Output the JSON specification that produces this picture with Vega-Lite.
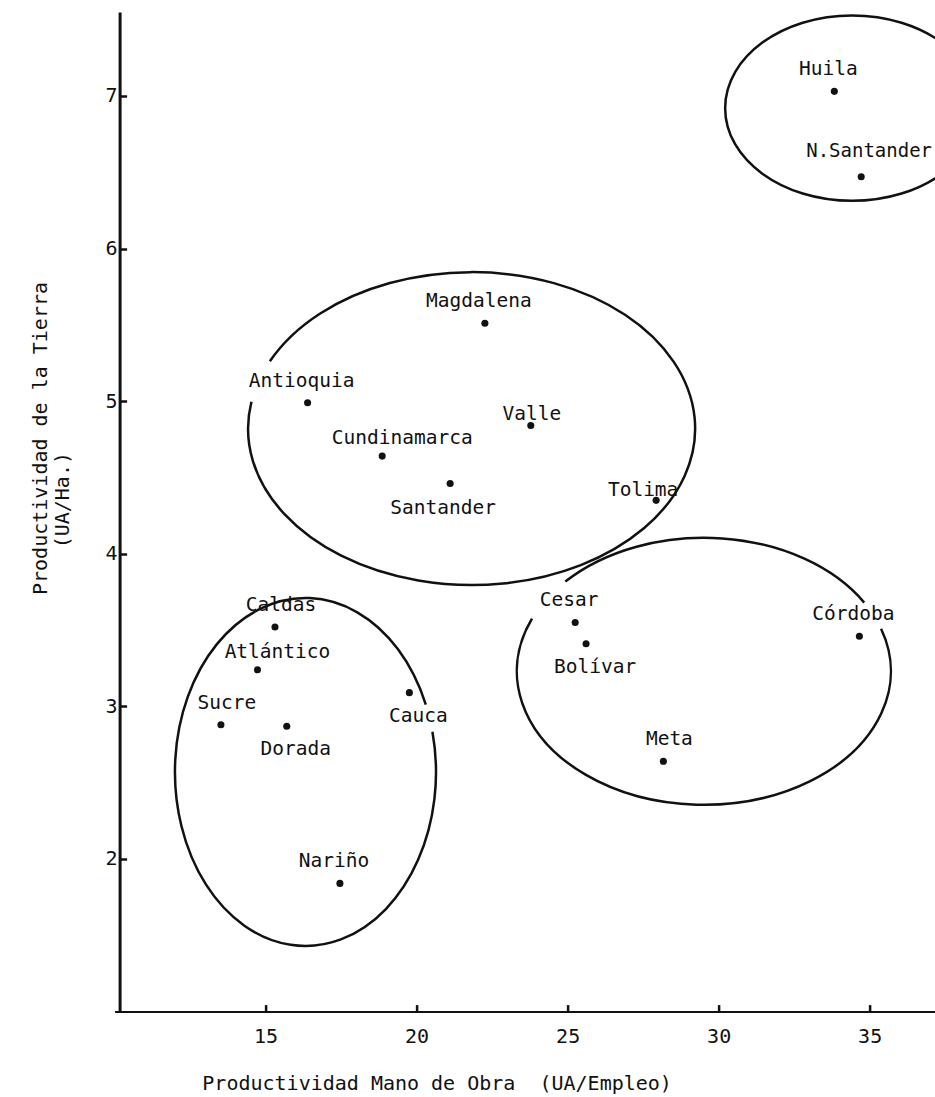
{
  "$schema": "https://vega.github.io/schema/vega-lite/v6.json",
  "width": 820,
  "height": 999.6,
  "autosize": {"type": "none"},
  "padding": {"left": 114.6, "top": 12, "right": 0.4, "bottom": 85.4},
  "background": "white",
  "config": {"view": {"stroke": null}, "font": "DejaVu Sans Mono"},
  "datasets": {
    "deptos": [
      {"depto": "Huila", "mano": 33.83, "tierra": 7.03},
      {"depto": "N.Santander", "mano": 34.72, "tierra": 6.47},
      {"depto": "Magdalena", "mano": 22.26, "tierra": 5.51},
      {"depto": "Antioquia", "mano": 16.39, "tierra": 4.99},
      {"depto": "Valle", "mano": 23.78, "tierra": 4.84},
      {"depto": "Cundinamarca", "mano": 18.86, "tierra": 4.64},
      {"depto": "Santander", "mano": 21.11, "tierra": 4.46},
      {"depto": "Tolima", "mano": 27.93, "tierra": 4.35},
      {"depto": "Caldas", "mano": 15.31, "tierra": 3.52},
      {"depto": "Atlántico", "mano": 14.73, "tierra": 3.24},
      {"depto": "Sucre", "mano": 13.52, "tierra": 2.88},
      {"depto": "Dorada", "mano": 15.70, "tierra": 2.87},
      {"depto": "Cauca", "mano": 19.76, "tierra": 3.09},
      {"depto": "Nariño", "mano": 17.46, "tierra": 1.84},
      {"depto": "Cesar", "mano": 25.25, "tierra": 3.55},
      {"depto": "Bolívar", "mano": 25.61, "tierra": 3.41},
      {"depto": "Córdoba", "mano": 34.66, "tierra": 3.46},
      {"depto": "Meta", "mano": 28.17, "tierra": 2.64}
    ],
    "grupos": [
      {"grupo": "A", "mano": 34.42, "tierra": 6.92},
      {"grupo": "B", "mano": 21.82, "tierra": 4.82},
      {"grupo": "C", "mano": 16.32, "tierra": 2.57},
      {"grupo": "D", "mano": 29.51, "tierra": 3.23}
    ]
  },
  "encoding": {
    "x": {
      "field": "mano", "type": "quantitative",
      "scale": {"domain": [10, 37.15], "nice": false, "zero": false},
      "axis": {
        "values": [15, 20, 25, 30, 35],
        "grid": false,
        "domainColor": "#111", "domainWidth": 2,
        "tickColor": "#111", "tickWidth": 2.5, "tickSize": -7,
        "labelPadding": 21.9, "labelFontSize": 20, "labelColor": "#111",
        "labelFont": "DejaVu Sans Mono",
        "title": "Productividad Mano de Obra \u00a0(UA/Empleo)",
        "titleFont": "DejaVu Sans Mono", "titleFontSize": 20, "titleFontWeight": "normal",
        "titleColor": "#111",
        "titleX": 322, "titleY": 71.5, "titleAlign": "center", "titleBaseline": "middle"
      }
    },
    "y": {
      "field": "tierra", "type": "quantitative",
      "scale": {"domain": [1, 7.55], "nice": false, "zero": false},
      "axis": {
        "values": [2, 3, 4, 5, 6, 7],
        "grid": false,
        "offset": -5,
        "domainColor": "#111", "domainWidth": 3,
        "tickColor": "#111", "tickWidth": 2.5, "tickSize": -7,
        "labelPadding": 9.6, "labelFontSize": 20, "labelColor": "#111",
        "labelFont": "DejaVu Sans Mono",
        "title": ["Productividad de la Tierra", "(UA/Ha.)\u00a0\u00a0\u00a0\u00a0\u00a0\u00a0\u00a0\u00a0\u00a0\u2800"],
        "titleFont": "DejaVu Sans Mono", "titleFontSize": 20, "titleFontWeight": "normal",
        "titleColor": "#111", "titleLineHeight": 21.5,
        "titleAngle": 270,
        "titleX": -78.8, "titleY": 426, "titleAlign": "center", "titleBaseline": "middle"
      }
    }
  },
  "layer": [
    {
      "data": {"name": "grupos"},
      "transform": [{"filter": "datum.grupo === 'A'"}],
      "mark": {"type": "point", "shape": "M -1 0 A 1 0.73 0 1 1 1 0 A 1 0.73 0 1 1 -1 0 Z", "size": 64516, "filled": false, "stroke": "#111", "strokeWidth": 2.5, "opacity": 1}
    },
    {
      "data": {"name": "grupos"},
      "transform": [{"filter": "datum.grupo === 'B'"}],
      "mark": {"type": "point", "shape": "M -0.9026 -0.3014 A 1 0.7 0 1 1 -0.9851 -0.1204", "size": 199809, "filled": false, "stroke": "#111", "strokeWidth": 2.5, "opacity": 1}
    },
    {
      "data": {"name": "grupos"},
      "transform": [{"filter": "datum.grupo === 'C'"}],
      "mark": {"type": "point", "shape": "M 0.9728 -0.3089 A 1 1.333 0 1 1 0.9219 -0.5166", "size": 68121, "filled": false, "stroke": "#111", "strokeWidth": 2.5, "opacity": 1}
    },
    {
      "data": {"name": "grupos"},
      "transform": [{"filter": "datum.grupo === 'D'"}],
      "mark": {"type": "point", "shape": "M -0.7408 -0.4796 A 1 0.714 0 0 1 0.8576 -0.3672 M 0.9478 -0.2278 A 1 0.714 0 1 1 -0.9191 -0.2812", "size": 139876, "filled": false, "stroke": "#111", "strokeWidth": 2.5, "opacity": 1}
    },
    {
      "data": {"name": "deptos"},
      "mark": {"type": "circle", "size": 50, "color": "#111", "opacity": 1}
    },
    {
      "data": {"name": "deptos"},
      "transform": [{"filter": {"field": "depto", "oneOf": ["Huila", "Magdalena", "Antioquia", "Nariño", "Cesar", "Córdoba"]}}],
      "mark": {"type": "text", "dx": -6, "dy": -22, "fontSize": 19.5, "font": "DejaVu Sans Mono", "color": "#111", "align": "center", "baseline": "middle"},
      "encoding": {"text": {"field": "depto"}}
    },
    {
      "data": {"name": "deptos"},
      "transform": [{"filter": {"field": "depto", "oneOf": ["Sucre", "Caldas", "Meta"]}}],
      "mark": {"type": "text", "dx": 6, "dy": -22, "fontSize": 19.5, "font": "DejaVu Sans Mono", "color": "#111", "align": "center", "baseline": "middle"},
      "encoding": {"text": {"field": "depto"}}
    },
    {
      "data": {"name": "deptos"},
      "transform": [{"filter": {"field": "depto", "oneOf": ["Atlántico", "Cundinamarca"]}}],
      "mark": {"type": "text", "dx": 20, "dy": -18, "fontSize": 19.5, "font": "DejaVu Sans Mono", "color": "#111", "align": "center", "baseline": "middle"},
      "encoding": {"text": {"field": "depto"}}
    },
    {
      "data": {"name": "deptos"},
      "transform": [{"filter": {"field": "depto", "oneOf": ["Valle"]}}],
      "mark": {"type": "text", "dx": 1, "dy": -12, "fontSize": 19.5, "font": "DejaVu Sans Mono", "color": "#111", "align": "center", "baseline": "middle"},
      "encoding": {"text": {"field": "depto"}}
    },
    {
      "data": {"name": "deptos"},
      "transform": [{"filter": {"field": "depto", "oneOf": ["Tolima"]}}],
      "mark": {"type": "text", "dx": -13, "dy": -10, "fontSize": 19.5, "font": "DejaVu Sans Mono", "color": "#111", "align": "center", "baseline": "middle"},
      "encoding": {"text": {"field": "depto"}}
    },
    {
      "data": {"name": "deptos"},
      "transform": [{"filter": {"field": "depto", "oneOf": ["Dorada", "Cauca", "Bolívar"]}}],
      "mark": {"type": "text", "dx": 9, "dy": 23, "fontSize": 19.5, "font": "DejaVu Sans Mono", "color": "#111", "align": "center", "baseline": "middle"},
      "encoding": {"text": {"field": "depto"}}
    },
    {
      "data": {"name": "deptos"},
      "transform": [{"filter": {"field": "depto", "oneOf": ["Santander"]}}],
      "mark": {"type": "text", "dx": -7, "dy": 24, "fontSize": 19.5, "font": "DejaVu Sans Mono", "color": "#111", "align": "center", "baseline": "middle"},
      "encoding": {"text": {"field": "depto"}}
    },
    {
      "data": {"name": "deptos"},
      "transform": [{"filter": {"field": "depto", "oneOf": ["N.Santander"]}}],
      "mark": {"type": "text", "dx": -55, "dy": -26, "fontSize": 19, "font": "DejaVu Sans Mono", "color": "#111", "align": "left", "baseline": "middle"},
      "encoding": {"text": {"field": "depto"}}
    }
  ]
}
